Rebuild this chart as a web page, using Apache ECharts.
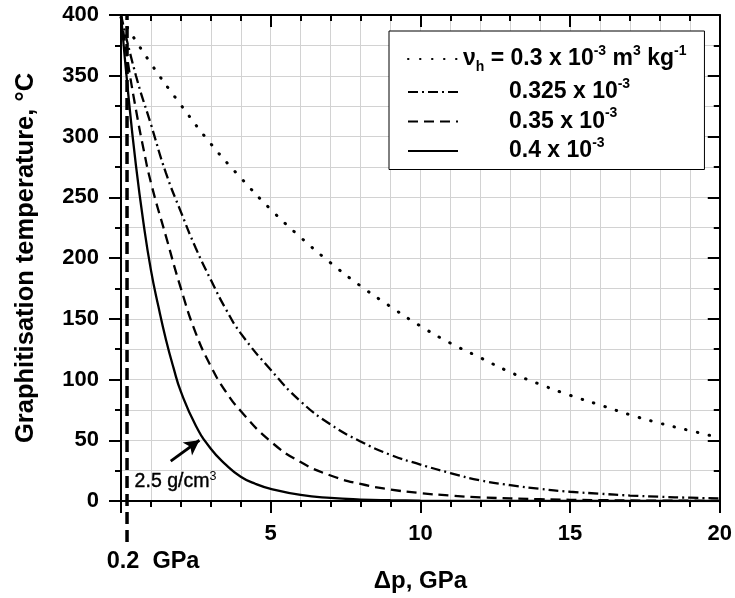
<!DOCTYPE html>
<html><head><meta charset="utf-8">
<script src="https://cdn.jsdelivr.net/npm/echarts@6/dist/echarts.min.js"></script>
<style>html,body{margin:0;padding:0;background:#fff}#c{width:735px;height:598px}</style>
</head><body><div id="c"></div>
<script>
// ---- data ----
const dottedX  = [0,1,2,3,4,5,6,7,8,9,10,11,12,13,14,15,16,17,18,19,20];
const dottedY  = [398,360,326,294,266,240,217,196,177,160,144,130,118,106,96,87,79,71,64,58,52];
const dashDotX = [0,0.5,1,1.5,2,2.5,3,3.5,4,5,6,7,8,9,10,11,12,13,14,15,16,17,18,19,20];
const dashDotY = [400,350,310,270,238,208,182,158,138,108,82,63,49,38,30,23,17,13,10,7.6,6,4.5,3.5,2.7,2.1];
const dashedX  = [0,0.25,0.5,0.75,1,1.5,2,2.5,3,3.5,4,5,6,7,8,9,10,11,12,14,16,18,20];
const dashedY  = [400,358,322,290,262,218,175,138,111,90,74,49,32,21,14,9.5,6.5,4.5,3,1.5,0.7,0.3,0.15];
const solidX   = [0,0.25,0.5,0.75,1,1.25,1.5,1.75,2,2.5,3,3.5,4,4.5,5,6,7,8,9,10,12,14,16,18,20];
const solidY   = [400,333,276,229,190,160,133,110,90,62,43,30,20,14,10,5,2.5,1.2,0.6,0.3,0.1,0.05,0,0,0];
const seriesNames = ['0.3','0.325','0.35','0.4'];
const thresholdX = 0.2;             // GPa, vertical dashed line
const thresholdLabel = '0.2  GPa';
const arrowFrom = [1.66, 32.8];
const arrowTo   = [2.62, 50];
const densityLabelAt = [1.82, 15.8];
const xTickLabels = ['', '5', '10', '15', '20'];
const yTickLabels = ['0','50','100','150','200','250','300','350','400'];

const zip = (xs, ys) => xs.map((x, i) => [x, ys[i]]);
const FONT = '"Liberation Sans", Arial, sans-serif';
const GRID_LEFT = 121, GRID_RIGHT = 11, GRID_TOP = 15, GRID_BOTTOM = 96;
const Y_MIN2 = 400 - (598 - 56 - GRID_TOP) * 400 / (598 - GRID_BOTTOM - GRID_TOP);

const gridGray = '#d2d2d2';
const blackAxis = { show: true, onZero: false, lineStyle: { color: '#000', width: 2 } };

const chart = echarts.init(document.getElementById('c'), null, { renderer: 'canvas' });

const legendFormatter = (name) => {
  if (name === '0.3') return '{t|ν}{sub|h}{t| = 0.3 x 10}{sup|-3}{t| m}{sup|3}{t| kg}{sup|-1}';
  return '{pad| }{t|' + name + ' x 10}{sup|-3}';
};

const option = {
  animation: false,
  backgroundColor: '#fff',
  textStyle: { fontFamily: FONT },
  grid: [
    { left: GRID_LEFT, right: GRID_RIGHT, top: GRID_TOP, bottom: GRID_BOTTOM, containLabel: false },
    { left: GRID_LEFT, right: GRID_RIGHT, top: GRID_TOP, bottom: 56, containLabel: false }
  ],
  legend: {
    data: seriesNames,
    orient: 'vertical',
    left: 389, top: 31,
    padding: [13, 18, 7, 18],
    itemWidth: 50, itemHeight: 14, itemGap: 3,
    borderColor: '#000', borderWidth: 1, backgroundColor: '#fff',
    selectedMode: false,
    itemStyle: { color: 'rgba(0,0,0,0)', borderWidth: 0, opacity: 0 },
    formatter: legendFormatter,
    textStyle: {
      fontFamily: FONT, color: '#000',
      rich: {
        t:   { fontSize: 23, fontWeight: 'bold', fontFamily: FONT, color: '#000', lineHeight: 30 },
        sup: { fontSize: 14, fontWeight: 'bold', fontFamily: FONT, color: '#000', verticalAlign: 'top', lineHeight: 30 },
        sub: { fontSize: 14, fontWeight: 'bold', fontFamily: FONT, color: '#000', verticalAlign: 'bottom', lineHeight: 30 },
        pad: { width: 46, fontSize: 23, lineHeight: 30 }
      }
    }
  },
  xAxis: [
    {
      gridIndex: 0, type: 'value', min: 0, max: 20, interval: 5, position: 'bottom',
      axisLine: blackAxis,
      axisTick: { show: true, inside: false, length: 12, lineStyle: { color: '#000', width: 2 } },
      minorTick: { show: true, splitNumber: 5, length: 6, lineStyle: { color: '#000', width: 2 } },
      axisLabel: { margin: 22, fontSize: 22, fontWeight: 'bold', color: '#000', fontFamily: FONT,
                   formatter: (v) => xTickLabels[Math.round(v / 5)] },
      splitLine: { show: true, lineStyle: { color: gridGray, width: 1 } },
      minorSplitLine: { show: true, lineStyle: { color: gridGray, width: 1 } },
      name: 'Δp, GPa', nameLocation: 'middle', nameGap: 68,
      nameTextStyle: { fontSize: 24, fontWeight: 'bold', color: '#000', fontFamily: FONT }
    },
    {
      gridIndex: 0, type: 'value', min: 0, max: 20, interval: 5, position: 'top',
      axisLine: blackAxis,
      axisTick: { show: true, inside: true, length: 12, lineStyle: { color: '#000', width: 2 } },
      minorTick: { show: true, splitNumber: 5, length: 6, lineStyle: { color: '#000', width: 2 } },
      axisLabel: { show: false }, splitLine: { show: false }
    },
    { gridIndex: 1, type: 'value', min: 0, max: 20, show: false }
  ],
  yAxis: [
    {
      gridIndex: 0, type: 'value', min: 0, max: 400, interval: 50, position: 'left',
      axisLine: blackAxis,
      axisTick: { show: true, inside: false, length: 12, lineStyle: { color: '#000', width: 2 } },
      minorTick: { show: true, splitNumber: 2, length: 6, lineStyle: { color: '#000', width: 2 } },
      axisLabel: { margin: 22, fontSize: 22, fontWeight: 'bold', color: '#000', fontFamily: FONT,
                   formatter: (v) => yTickLabels[Math.round(v / 50)] },
      splitLine: { show: true, lineStyle: { color: gridGray, width: 1 } },
      minorSplitLine: { show: true, lineStyle: { color: gridGray, width: 1 } },
      name: 'Graphitisation temperature, °C', nameLocation: 'middle', nameGap: 82, nameRotate: 90,
      nameTextStyle: { fontSize: 25.5, fontWeight: 'bold', color: '#000', fontFamily: FONT }
    },
    {
      gridIndex: 0, type: 'value', min: 0, max: 400, interval: 50, position: 'right',
      axisLine: blackAxis,
      axisTick: { show: true, inside: true, length: 12, lineStyle: { color: '#000', width: 2 } },
      minorTick: { show: true, splitNumber: 2, length: 6, lineStyle: { color: '#000', width: 2 } },
      axisLabel: { show: false }, splitLine: { show: false }
    },
    { gridIndex: 1, type: 'value', min: Y_MIN2, max: 400, show: false }
  ],
  series: [
    {
      name: '0.3', type: 'line', xAxisIndex: 0, yAxisIndex: 0,
      data: zip(dottedX, dottedY), symbol: 'none', smooth: 0.5,
      lineStyle: { color: '#000', width: 3, type: [0.5, 11.5], cap: 'round' }, itemStyle: { color: '#000' }
    },
    {
      name: '0.325', type: 'line', xAxisIndex: 0, yAxisIndex: 0,
      data: zip(dashDotX, dashDotY), symbol: 'none', smooth: 0.5,
      lineStyle: { color: '#000', width: 2.3, type: [10, 4, 2, 4] }, itemStyle: { color: '#000' }
    },
    {
      name: '0.35', type: 'line', xAxisIndex: 0, yAxisIndex: 0,
      data: zip(dashedX, dashedY), symbol: 'none', smooth: 0.5,
      lineStyle: { color: '#000', width: 2.3, type: [10, 6] }, itemStyle: { color: '#000' }
    },
    {
      name: '0.4', type: 'line', xAxisIndex: 0, yAxisIndex: 0,
      data: zip(solidX, solidY), symbol: 'none', smooth: 0.5,
      lineStyle: { color: '#000', width: 2.3, type: 'solid' }, itemStyle: { color: '#000' },
      markLine: {
        silent: true, symbol: ['none', 'arrow'], symbolSize: [12, 15], animation: false,
        label: { show: false },
        lineStyle: { color: '#000', width: 2.8, type: 'solid' },
        data: [[{ coord: arrowFrom }, { coord: arrowTo }]]
      },
      markPoint: {
        silent: true, symbol: 'circle', symbolSize: 0.1, animation: false,
        itemStyle: { color: 'rgba(0,0,0,0)' },
        label: {
          show: true, position: 'inside',
          formatter: '{a|2.5 g/cm}{s|3}',
          rich: {
            a: { fontSize: 19.5, color: '#000', fontFamily: FONT, lineHeight: 23, textBorderColor: '#000', textBorderWidth: 0.4 },
            s: { fontSize: 12.5, color: '#000', fontFamily: FONT, verticalAlign: 'top', lineHeight: 23 }
          }
        },
        data: [{ coord: densityLabelAt }]
      }
    },
    {
      name: 'threshold', type: 'line', xAxisIndex: 2, yAxisIndex: 2,
      data: [[thresholdX, Y_MIN2], [thresholdX, 400]], symbol: 'none', silent: true,
      lineStyle: { color: '#000', width: 3.5, type: [12, 6] },
      markPoint: {
        silent: true, symbol: 'circle', symbolSize: 0.1, animation: false,
        itemStyle: { color: 'rgba(0,0,0,0)' },
        label: { show: true, position: 'bottom', distance: 7, offset: [26, 0],
                 formatter: thresholdLabel, fontSize: 23.5, fontWeight: 'bold', color: '#000', fontFamily: FONT },
        data: [{ coord: [thresholdX, Y_MIN2] }]
      }
    }
  ]
};
chart.setOption(option);
</script></body></html>
